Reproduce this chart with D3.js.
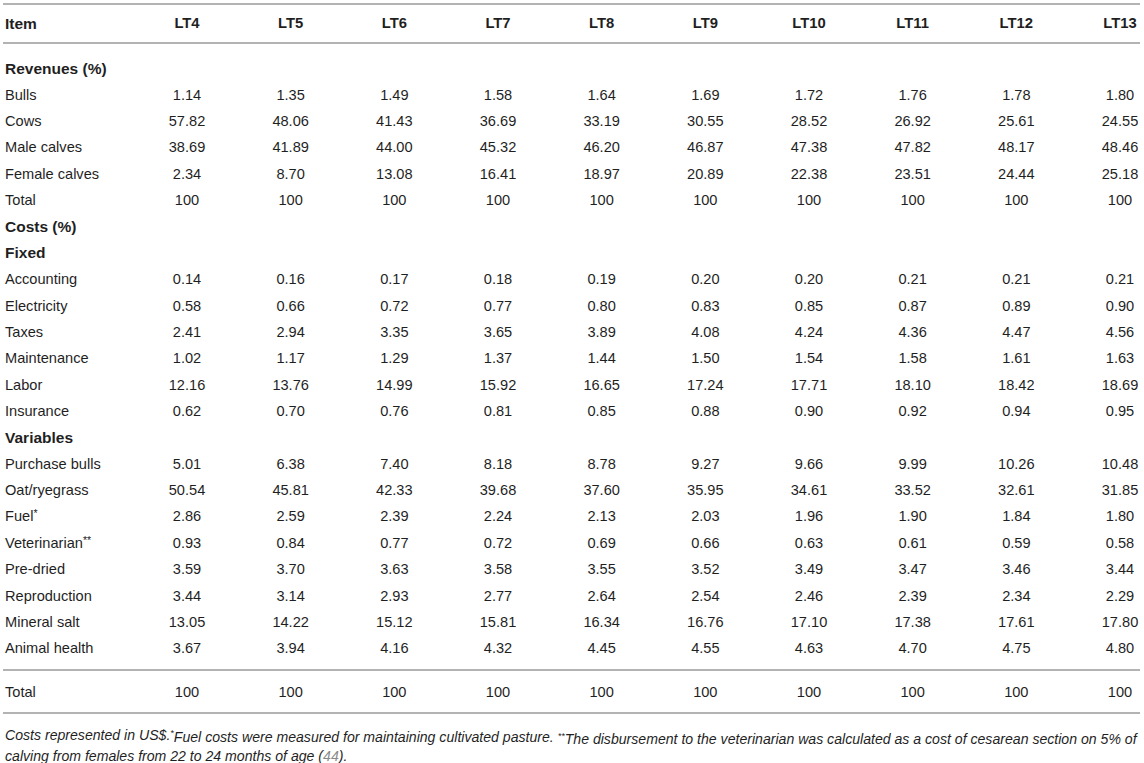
<!DOCTYPE html>
<html>
<head>
<meta charset="utf-8">
<script src="https://cdn.jsdelivr.net/npm/d3@7"></script>
<style>
  body { margin: 0; background: #fff; }
  svg text { font-family: "Liberation Sans", Arial, Helvetica, sans-serif; fill: #1f1f1f; }
  .bold { font-weight: bold; }
  .note { font-style: italic; font-size: 14.1px; }
</style>
</head>
<body>
<div id="chart"></div>
<script>
// column headers
const columns = ['LT4', 'LT5', 'LT6', 'LT7', 'LT8', 'LT9', 'LT10', 'LT11', 'LT12', 'LT13'];

// revenues (%)
const bulls = ['1.14', '1.35', '1.49', '1.58', '1.64', '1.69', '1.72', '1.76', '1.78', '1.80'];
const cows = ['57.82', '48.06', '41.43', '36.69', '33.19', '30.55', '28.52', '26.92', '25.61', '24.55'];
const maleCalves = ['38.69', '41.89', '44.00', '45.32', '46.20', '46.87', '47.38', '47.82', '48.17', '48.46'];
const femaleCalves = ['2.34', '8.70', '13.08', '16.41', '18.97', '20.89', '22.38', '23.51', '24.44', '25.18'];
const totals = ['100', '100', '100', '100', '100', '100', '100', '100', '100', '100'];

// fixed costs (%)
const accounting = ['0.14', '0.16', '0.17', '0.18', '0.19', '0.20', '0.20', '0.21', '0.21', '0.21'];
const electricity = ['0.58', '0.66', '0.72', '0.77', '0.80', '0.83', '0.85', '0.87', '0.89', '0.90'];
const taxes = ['2.41', '2.94', '3.35', '3.65', '3.89', '4.08', '4.24', '4.36', '4.47', '4.56'];
const maintenance = ['1.02', '1.17', '1.29', '1.37', '1.44', '1.50', '1.54', '1.58', '1.61', '1.63'];
const labor = ['12.16', '13.76', '14.99', '15.92', '16.65', '17.24', '17.71', '18.10', '18.42', '18.69'];
const insurance = ['0.62', '0.70', '0.76', '0.81', '0.85', '0.88', '0.90', '0.92', '0.94', '0.95'];

// variable costs (%)
const purchaseBulls = ['5.01', '6.38', '7.40', '8.18', '8.78', '9.27', '9.66', '9.99', '10.26', '10.48'];
const oatRyegrass = ['50.54', '45.81', '42.33', '39.68', '37.60', '35.95', '34.61', '33.52', '32.61', '31.85'];
const fuel = ['2.86', '2.59', '2.39', '2.24', '2.13', '2.03', '1.96', '1.90', '1.84', '1.80'];
const veterinarian = ['0.93', '0.84', '0.77', '0.72', '0.69', '0.66', '0.63', '0.61', '0.59', '0.58'];
const preDried = ['3.59', '3.70', '3.63', '3.58', '3.55', '3.52', '3.49', '3.47', '3.46', '3.44'];
const reproduction = ['3.44', '3.14', '2.93', '2.77', '2.64', '2.54', '2.46', '2.39', '2.34', '2.29'];
const mineralSalt = ['13.05', '14.22', '15.12', '15.81', '16.34', '16.76', '17.10', '17.38', '17.61', '17.80'];
const animalHealth = ['3.67', '3.94', '4.16', '4.32', '4.45', '4.55', '4.63', '4.70', '4.75', '4.80'];

// row order: [label, footnote mark, values]; null values = section heading
const rows = [
    ['Revenues (%)', '', null],
    ['Bulls', '', bulls],
    ['Cows', '', cows],
    ['Male calves', '', maleCalves],
    ['Female calves', '', femaleCalves],
    ['Total', '', totals],
    ['Costs (%)', '', null],
    ['Fixed', '', null],
    ['Accounting', '', accounting],
    ['Electricity', '', electricity],
    ['Taxes', '', taxes],
    ['Maintenance', '', maintenance],
    ['Labor', '', labor],
    ['Insurance', '', insurance],
    ['Variables', '', null],
    ['Purchase bulls', '', purchaseBulls],
    ['Oat/ryegrass', '', oatRyegrass],
    ['Fuel', '*', fuel],
    ['Veterinarian', '**', veterinarian],
    ['Pre-dried', '', preDried],
    ['Reproduction', '', reproduction],
    ['Mineral salt', '', mineralSalt],
    ['Animal health', '', animalHealth]
];
const footerRow = ['Total', '', totals];

const width = 1144;
const height = 763;

const svg = d3.select('#chart')
    .append('svg')
    .attr('width', width)
    .attr('height', height);

// column centres
const xScale = d3.scalePoint()
    .domain(columns)
    .range([187, 1120]);

// body rows
const yScale = d3.scalePoint()
    .domain(d3.range(rows.length))
    .range([68, 648]);

const ruleColor = '#b3b3b3';
const rule = (y) => svg.append('line')
    .attr('x1', 3).attr('x2', 1140)
    .attr('y1', y).attr('y2', y)
    .attr('stroke', ruleColor)
    .attr('stroke-width', 2);

rule(4);
rule(43);
rule(670);
rule(713);

// header
svg.append('text')
    .attr('class', 'bold')
    .attr('x', 5)
    .attr('y', 23)
    .attr('dy', '0.36em')
    .style('font-size', '15.5px')
    .text('Item');

svg.selectAll('.col-head')
    .data(columns)
    .enter()
    .append('text')
    .attr('class', 'col-head bold')
    .attr('x', d => xScale(d))
    .attr('y', 23)
    .attr('dy', '0.36em')
    .attr('text-anchor', 'middle')
    .style('font-size', '14.8px')
    .text(d => d);

function drawRow(row, y) {
    const [label, mark, values] = row;
    const t = svg.append('text')
        .attr('class', values ? null : 'bold')
        .attr('x', 5)
        .attr('y', y)
        .attr('dy', '0.36em')
        .style('font-size', values ? '14.6px' : '15.5px');
    t.append('tspan').text(label);
    if (mark) {
        t.append('tspan')
            .attr('dy', '-0.4em')
            .style('font-size', '10.5px')
            .text(mark);
    }

    if (!values) {
        return;
    }
    svg.append('g')
        .selectAll('text')
        .data(values)
        .enter()
        .append('text')
        .attr('x', (d, i) => xScale(columns[i]))
        .attr('y', y)
        .attr('dy', '0.36em')
        .attr('text-anchor', 'middle')
        .style('font-size', '14.6px')
        .text(d => d);
}

rows.forEach((row, i) => drawRow(row, yScale(i)));
drawRow(footerRow, 692);

// footnote
const note1 = svg.append('text')
    .attr('class', 'note')
    .attr('x', 5)
    .attr('y', 735)
    .attr('dy', '0.36em');
note1.append('tspan').text('Costs represented in US$.');
note1.append('tspan').attr('dy', '-0.4em').style('font-size', '9px').text('*');
note1.append('tspan').attr('dy', '0.4em').text('Fuel costs were measured for maintaining cultivated pasture. ');
note1.append('tspan').attr('dy', '-0.4em').style('font-size', '9px').text('**');
note1.append('tspan').attr('dy', '0.4em').text('The disbursement to the veterinarian was calculated as a cost of cesarean section on 5% of');

const note2 = svg.append('text')
    .attr('class', 'note')
    .attr('x', 5)
    .attr('y', 756)
    .attr('dy', '0.36em');
note2.append('tspan').text('calving from females from 22 to 24 months of age (');
note2.append('tspan').style('fill', '#8a8a8a').text('44');
note2.append('tspan').text(').');
</script>
</body>
</html>
